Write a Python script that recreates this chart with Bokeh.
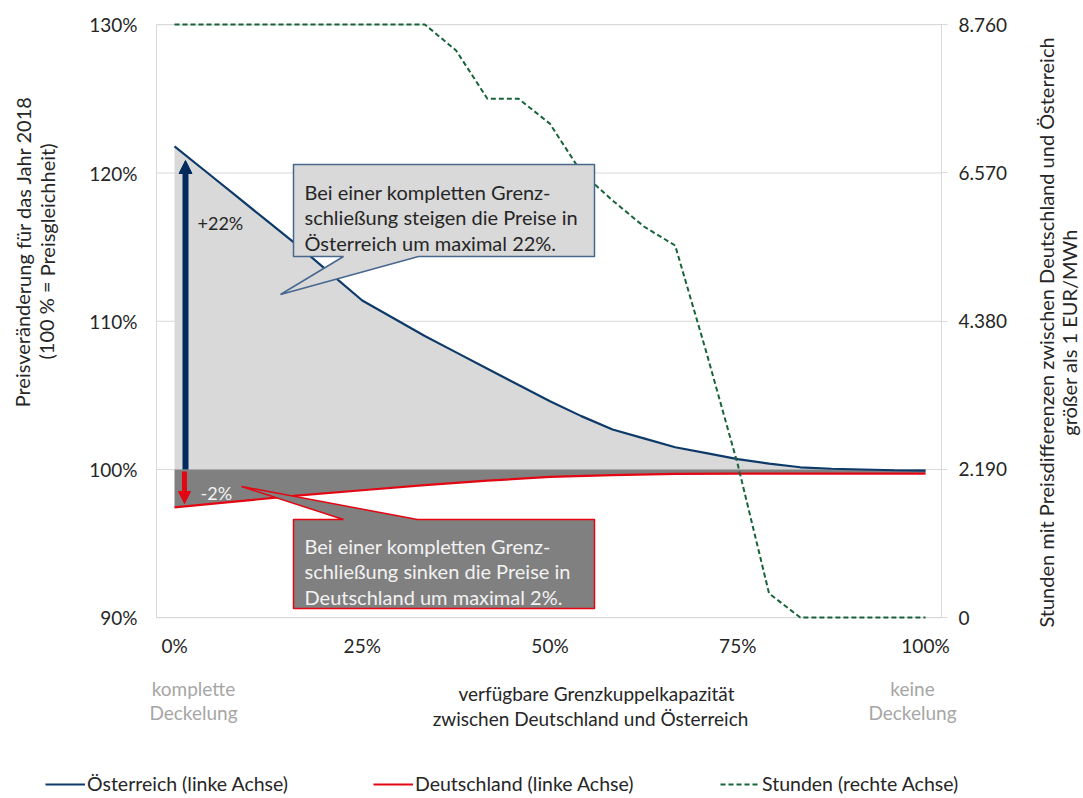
from bokeh.plotting import figure
from bokeh.models import (Range1d, LinearAxis, FixedTicker, Label, Arrow, NormalHead,
                          Legend, LegendItem, PolyAnnotation, BoxAnnotation)
from bokeh.embed import file_html
from bokeh.resources import INLINE

# ---------------- data ----------------
cap_at = [0, 4.17, 8.33, 12.5, 16.67, 20.83, 25, 29.17, 33.33, 37.5, 41.67, 45.83, 50,
          54.17, 58.33, 62.5, 66.67, 70.83, 75, 79.17, 83.33, 87.5, 91.67, 95.83, 100]
price_at = [121.8, 120.1, 118.4, 116.7, 115.0, 113.2, 111.4, 110.2, 109.0, 107.9, 106.8, 105.7, 104.6,
            103.6, 102.7, 102.1, 101.5, 101.1, 100.7, 100.4, 100.15, 100.05, 100.0, 99.95, 99.93]

cap_de = [0, 8.33, 16.67, 25, 33.33, 41.67, 50, 58.33, 66.67, 75, 83.33, 91.67, 100]
price_de = [97.45, 97.85, 98.25, 98.6, 98.95, 99.25, 99.5, 99.62, 99.7, 99.72, 99.72, 99.72, 99.72]

cap_h = [0, 33.33, 37.5, 41.67, 45.83, 50, 54.17, 58.33, 62.5, 66.67, 70.83, 75, 79.17, 83.33, 100]
hours = [8760, 8760, 8376, 7662, 7662, 7293, 6577, 6161, 5776, 5495, 3915, 2260, 355, 0, 0]

x_ticks = [0, 25, 50, 75, 100]
x_tick_labels = ["0%", "25%", "50%", "75%", "100%"]
y_ticks = [90, 100, 110, 120, 130]
y_tick_labels = ["90%", "100%", "110%", "120%", "130%"]
h_ticks = [0, 2190, 4380, 6570, 8760]
h_tick_labels = ["0", "2.190", "4.380", "6.570", "8.760"]

names = ["Österreich (linke Achse)", "Deutschland (linke Achse)", "Stunden (rechte Achse)"]

# ---------------- style / layout ----------------
FONT = "Lato"
FS = "19px"
TXT = "#262626"
BLUE = "#0E3A6A"
NAVY = "#002B5C"
RED = "#E30613"
GREEN = "#17643A"
LGREY = "#D9D9D9"
DGREY = "#808080"
W, H = 1083, 798
PL, PR, PT, PB = 156, 941, 24, 617       # plot area in canvas pixels
X0, X100 = 174, 925                      # pixel of 0% and 100%
YREF, PX_PER_PCT = 469, 14.825           # pixel of 100% and pixels per percent point


def dx(px):
    return (px - X0) * 100 / (X100 - X0)


def dy(py):
    return 100 + (YREF - py) / PX_PER_PCT


def hy(py):
    return 8760 * (PB - py) / (PB - PT)


p = figure(width=W, height=H, x_range=Range1d(dx(0), dx(W)), y_range=Range1d(dy(H), dy(0)),
           output_backend="svg", toolbar_location=None, x_axis_type=None, y_axis_type=None,
           min_border=0, min_border_left=0, min_border_right=0, min_border_top=0, min_border_bottom=0)
p.extra_y_ranges = {"hours": Range1d(hy(H), hy(0))}
p.outline_line_color = None
p.background_fill_color = "white"
p.border_fill_color = "white"


def style_axis(ax, standoff, tick_out=0, tick_color=None):
    ax.axis_line_color = None
    ax.major_tick_line_color = tick_color
    ax.minor_tick_line_color = None
    ax.major_tick_in = 0
    ax.major_tick_out = tick_out
    ax.minor_tick_out = 0
    ax.major_label_standoff = standoff
    ax.major_label_text_font = FONT
    ax.major_label_text_font_size = FS
    ax.major_label_text_color = TXT


xax = LinearAxis(fixed_location=90, ticker=FixedTicker(ticks=x_ticks),
                 major_label_overrides=dict(zip(x_ticks, x_tick_labels)))
style_axis(xax, 16)
p.add_layout(xax, "below")

yax = LinearAxis(fixed_location=dx(PL), ticker=FixedTicker(ticks=y_ticks),
                 major_label_overrides=dict(zip(y_ticks, y_tick_labels)))
style_axis(yax, 19)
p.add_layout(yax, "left")

rax = LinearAxis(y_range_name="hours", fixed_location=dx(PR), ticker=FixedTicker(ticks=h_ticks),
                 major_label_overrides=dict(zip(h_ticks, h_tick_labels)))
style_axis(rax, 11, tick_out=6, tick_color=LGREY)
p.add_layout(rax, "right")

# horizontal grid lines at the left-axis ticks, limited to the plot area
p.segment(x0=[dx(PL)] * len(y_ticks), x1=[dx(PR)] * len(y_ticks), y0=y_ticks, y1=y_ticks,
          line_color=LGREY, line_width=1)
p.add_layout(BoxAnnotation(left=dx(PL), right=dx(PR), bottom=dy(PB), top=dy(PT), fill_alpha=0,
                           line_color=LGREY, line_width=1, line_alpha=1, level="underlay"))

# fills and lines
p.varea(x=cap_at, y1=[100] * len(cap_at), y2=price_at, fill_color=LGREY)
p.varea(x=cap_de, y1=price_de, y2=[100] * len(cap_de), fill_color=DGREY)
r_at = p.line(cap_at, price_at, line_color=BLUE, line_width=2.2)
r_de = p.line(cap_de, price_de, line_color=RED, line_width=2.2)
r_h = p.line(cap_h, hours, y_range_name="hours", line_color=GREEN, line_width=2, line_dash="5 3")

# arrows
p.add_layout(Arrow(end=NormalHead(size=13, fill_color=NAVY, line_color=NAVY, line_width=1),
                   x_start=dx(185), y_start=100, x_end=dx(185), y_end=dy(160), line_width=6, line_color=NAVY))
p.add_layout(Arrow(end=NormalHead(size=12, fill_color=RED, line_color=RED, line_width=1),
                   x_start=dx(184), y_start=dy(471), x_end=dx(184), y_end=dy(503), line_width=5, line_color=RED))

# callouts
c1x = [293, 594, 594, 418, 280, 343, 293]
c1y = [164, 164, 256, 256, 294, 256, 256]
p.add_layout(PolyAnnotation(xs=[dx(v) for v in c1x], ys=[dy(v) for v in c1y], fill_color=LGREY, fill_alpha=1,
                            line_color="#47678F", line_width=1.5, line_alpha=1))
c2x = [293, 343, 241, 417, 594, 594, 293]
c2y = [519, 519, 486, 519, 519, 608, 608]
p.add_layout(PolyAnnotation(xs=[dx(v) for v in c2x], ys=[dy(v) for v in c2y], fill_color=DGREY, fill_alpha=1,
                            line_color=RED, line_width=1.5, line_alpha=1))


def label(x, y, text, color=TXT, size=FS, align="left", baseline="alphabetic", angle=0.0):
    p.add_layout(Label(x=x, y=y, text=text, text_font=FONT, text_font_size=size, text_color=color,
                       text_align=align, text_baseline=baseline, angle=angle))


for i, t in enumerate(["Bei einer kompletten Grenz-", "schließung steigen die Preise in",
                       "Österreich um maximal 22%."]):
    label(dx(304), dy(191 + 25.5 * i), t, size="20px")
for i, t in enumerate(["Bei einer kompletten Grenz-", "schließung sinken die Preise in",
                       "Deutschland um maximal 2%."]):
    label(dx(304), dy(545 + 25.5 * i), t, color="#F2F2F2", size="20px")

label(dx(197), dy(222), "+22%", size="18px")
label(dx(200), dy(492), "-2%", color="#F2F2F2", size="18px")

# axis titles
ROT = 1.5707963
TS = "20px"
label(dx(22), dy(251), "Preisveränderung für das Jahr 2018", size=TS, align="center",
      baseline="middle", angle=ROT)
label(dx(46), dy(251), "(100 % = Preisgleichheit)", size=TS, align="center", baseline="middle", angle=ROT)
label(dx(1045), dy(332), "Stunden mit Preisdifferenzen zwischen Deutschland und Österreich", size=TS,
      align="center", baseline="middle", angle=ROT)
label(dx(1068), dy(332), "größer als 1 EUR/MWh", size=TS, align="center", baseline="middle", angle=ROT)

# texts below the x axis
for (xx, yy, t, c) in [(193, 688, "komplette", "#A6A6A6"), (193, 712, "Deckelung", "#A6A6A6"),
                       (912, 688, "keine", "#A6A6A6"), (912, 712, "Deckelung", "#A6A6A6"),
                       (596, 693, "verfügbare Grenzkuppelkapazität", TXT),
                       (590, 718, "zwischen Deutschland und Österreich", TXT)]:
    label(dx(xx), dy(yy), t, color=c, align="center", baseline="middle")

# legend (three single-item legends placed in the bottom strip)
for r, name, xpx in [(r_at, names[0], 45), (r_de, names[1], 373), (r_h, names[2], 720)]:
    leg = Legend(items=[LegendItem(label=name, renderers=[r])], location=(xpx, H - 785 - 10),
                 glyph_width=40, glyph_height=20, label_height=20, label_standoff=2, padding=0, margin=0,
                 spacing=0, border_line_color=None, background_fill_alpha=0,
                 label_text_font=FONT, label_text_font_size="19.5px", label_text_color=TXT)
    p.add_layout(leg)

open("out.html", "w").write(file_html(p, INLINE))
